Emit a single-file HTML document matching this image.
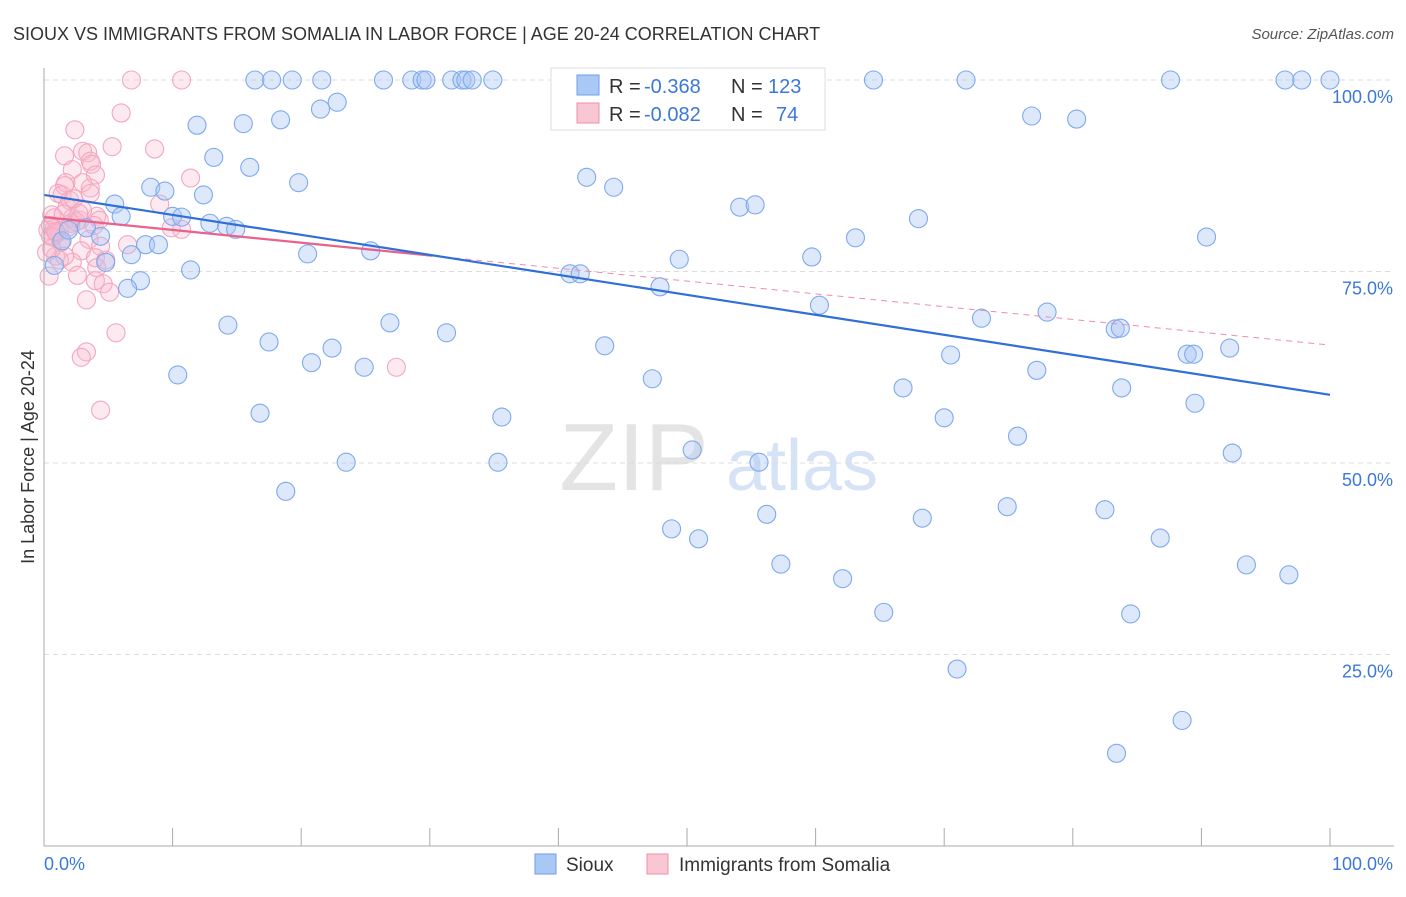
<!DOCTYPE html>
<html><head><meta charset="utf-8"><style>
body{margin:0;background:#fff;font-family:"Liberation Sans",sans-serif;}
svg text{font-family:"Liberation Sans",sans-serif;}
</style></head><body>
<svg id="chart" width="1406" height="892">
<text x="13" y="40" font-size="18" fill="#333">SIOUX VS IMMIGRANTS FROM SOMALIA IN LABOR FORCE | AGE 20-24 CORRELATION CHART</text>
<text x="1394" y="39" font-size="15" fill="#555" font-style="italic" text-anchor="end">Source: ZipAtlas.com</text>
<text x="634" y="490" font-size="96" fill="#e4e4e4" font-family="Liberation Serif" text-anchor="middle">ZIP</text>
<text x="802" y="490" font-size="72" fill="#d6e3f7" text-anchor="middle">atlas</text>
<g id="grid"></g><g id="pts"></g><g id="lines"></g><g id="axes"></g>
<text transform="translate(34,457) rotate(-90)" font-size="18" fill="#333" text-anchor="middle">In Labor Force | Age 20-24</text>
<g>
<rect x="551" y="68" width="274" height="62" fill="#fff" stroke="#ddd"/>
<rect x="577" y="75" width="22" height="20" fill="#a9c8f4" stroke="#6d9eeb"/>
<text x="609" y="93" font-size="20" fill="#333">R =</text>
<text x="644" y="93" font-size="20" fill="#3c78d8">-0.368</text>
<text x="731" y="93" font-size="20" fill="#333">N =</text>
<text x="768" y="93" font-size="20" fill="#3c78d8">123</text>
<rect x="577" y="103" width="22" height="20" fill="#f9c6d4" stroke="#f08caa"/>
<text x="609" y="121" font-size="20" fill="#333">R =</text>
<text x="644" y="121" font-size="20" fill="#3c78d8">-0.082</text>
<text x="731" y="121" font-size="20" fill="#333">N =</text>
<text x="776" y="121" font-size="20" fill="#3c78d8">74</text>
</g>
<g>
<rect x="535" y="854" width="21" height="20" fill="#a9c8f4" stroke="#6d9eeb"/>
<text x="566" y="871" font-size="19" fill="#333">Sioux</text>
<rect x="647" y="854" width="21" height="20" fill="#f9c6d4" stroke="#f08caa"/>
<text x="679" y="871" font-size="19" fill="#333">Immigrants from Somalia</text>
</g>
</svg>
<script>
const blueX=[16.4,17.7,19.3,21.6,26.4,28.6,29.4,29.7,31.7,32.5,32.8,33.3,34.9,45.5,52.2,64.5,71.7,87.6,96.5,97.8,100,
22.8,21.5,11.9,15.5,18.4,13.2,16.0,19.8,8.3,9.4,12.4,5.5,6.0,10.0,10.7,12.9,14.2,14.9,3.3,4.4,7.9,8.9,6.8,4.8,20.5,25.4,11.4,7.5,6.5,0.8,1.4,1.9,
14.3,26.9,31.3,17.5,22.4,20.8,24.9,10.4,16.8,23.5,18.8,35.6,35.3,42.2,44.3,54.1,55.3,68.0,63.1,90.4,49.4,59.7,40.9,41.7,47.9,60.3,72.9,78.0,83.3,83.7,
43.6,70.5,88.9,89.4,92.2,47.3,77.2,66.8,83.8,70.0,89.5,75.7,50.4,55.6,92.4,76.8,80.3,48.8,50.9,56.2,68.3,74.9,82.5,86.8,57.3,62.1,93.5,96.8,65.3,84.5,71.0,88.5,83.4];
const blueY=[100,100,100,100,100,100,100,100,100,100,100,100,100,100,100,100,100,100,100,100,100,
97.1,96.2,94.1,94.3,94.8,89.9,88.6,86.6,86.0,85.5,85.0,83.8,82.2,82.2,82.1,81.3,80.9,80.5,80.7,79.6,78.5,78.5,77.2,76.2,77.3,77.7,75.2,73.8,72.8,75.8,79.0,80.4,
68.0,68.3,67.0,65.8,65.0,63.1,62.5,61.5,56.5,50.1,46.3,56.0,50.1,87.3,86.0,83.4,83.7,81.9,79.4,79.5,76.6,76.9,74.7,74.7,73.0,70.6,68.9,69.7,67.5,67.6,
65.3,64.1,64.2,64.2,65.0,61.0,62.1,59.8,59.8,55.9,57.8,53.5,51.7,50.1,51.3,95.3,94.9,41.4,40.1,43.3,42.8,44.3,43.9,40.2,36.8,34.9,36.7,35.4,30.5,30.3,23.1,16.4,12.1];
const pinkX=[6.8,10.7,6.0,2.4,8.6,5.3,3.0,3.4,1.6,3.6,3.7,2.2,4.0,3.0,1.7,1.6,11.4,3.6,3.6,1.1,1.4,9.0,2.0,1.8,0.6,0.8,2.2,4.1,4.3,2.8,9.9,10.7,0.3,0.8,1.2,0.5,1.4,3.5,6.5,2.9,4.4,0.9,1.2,4.0,2.2,0.4,2.6,4.1,4.0,4.6,5.1,3.3,5.6,27.4,3.3,2.9,4.4,0.5,1.0,2.5,1.5,3.0,0.7,1.9,2.1,1.3,0.9,2.7,3.9,0.2,1.6,0.6,2.3,4.8];
const pinkY=[100,100,95.7,93.5,91.0,91.3,90.7,90.5,90.1,89.4,89.0,88.3,87.6,86.6,86.6,86.2,87.2,85.9,85.2,85.2,85.0,83.8,84.3,83.4,82.4,82.0,82.0,82.2,81.7,81.7,80.7,80.5,80.4,80.6,80.3,79.6,79.0,79.2,78.5,77.7,78.3,77.0,76.5,76.8,76.2,74.4,74.5,75.5,73.8,73.4,72.3,71.3,67.0,62.5,64.5,63.8,56.9,81.0,80.0,81.5,82.5,83.0,79.5,80.8,81.3,78.8,80.2,82.6,81.0,77.5,77.0,78.0,84.5,76.5];
const blueTrend=[85.0,58.9];
const pinkTrend=[82.1,65.4];
const pinkSolidEnd=30.2;
const yTicks=[25,50,75,100];
const xTickLabels=["0.0%","100.0%"];

const X0=44,X1=1330,Y0=846,YH=80;
const sx=v=>X0+(X1-X0)*v/100, sy=v=>Y0-(Y0-YH)*v/100;
const NS='http://www.w3.org/2000/svg';
function mk(tag,attrs,parent){const e=document.createElementNS(NS,tag);for(const k in attrs)e.setAttribute(k,attrs[k]);document.getElementById(parent).appendChild(e);return e;}
yTicks.forEach(t=>{
  const l=mk('line',{x1:X0,x2:1394,y1:sy(t),y2:sy(t),stroke:'#ddd','stroke-dasharray':'5,4'},'grid');
  
  
  const tx=mk('text',{x:1393,y:sy(t)+23,'font-size':18,fill:'#3c78d8','text-anchor':'end'},'grid');
  tx.textContent=t.toFixed(1)+'%';
  
  
});
for(let i=0;i<pinkX.length;i++){
  const c=mk('circle',{cx:sx(pinkX[i]),cy:sy(pinkY[i]),r:9,fill:'rgba(248,185,205,0.3)',stroke:'#f4a6be','stroke-width':1.1},'pts');
  
  
}
for(let i=0;i<blueX.length;i++){
  const c=mk('circle',{cx:sx(blueX[i]),cy:sy(blueY[i]),r:9,fill:'rgba(170,198,244,0.4)',stroke:'#7ea9ee','stroke-width':1.1},'pts');
  
  
}
const pAt=v=>pinkTrend[0]+(pinkTrend[1]-pinkTrend[0])*v/100;
let l=mk('line',{x1:sx(pinkSolidEnd),y1:sy(pAt(pinkSolidEnd)),x2:sx(100),y2:sy(pinkTrend[1]),stroke:'#f08caa','stroke-width':1,'stroke-dasharray':'6,5'},'lines');


l=mk('line',{x1:sx(0),y1:sy(pinkTrend[0]),x2:sx(pinkSolidEnd),y2:sy(pAt(pinkSolidEnd)),stroke:'#e8628c','stroke-width':2.2},'lines');


l=mk('line',{x1:sx(0),y1:sy(blueTrend[0]),x2:sx(100),y2:sy(blueTrend[1]),stroke:'#2f6fd6','stroke-width':2.2},'lines');


l=mk('line',{x1:X0,x2:X0,y1:68,y2:Y0,stroke:'#aaa'},'axes');


l=mk('line',{x1:X0,x2:1394,y1:Y0,y2:Y0,stroke:'#aaa'},'axes');


for(let i=0;i<=10;i++){
  const t=mk('line',{x1:sx(i*10),x2:sx(i*10),y1:828,y2:Y0,stroke:'#aaa'},'axes');
  
  
}
let tx=mk('text',{x:44,y:870,'font-size':18,fill:'#3c78d8'},'axes');tx.textContent=xTickLabels[0];


tx=mk('text',{x:1393,y:870,'font-size':18,fill:'#3c78d8','text-anchor':'end'},'axes');tx.textContent=xTickLabels[1];


</script>
</body></html>
